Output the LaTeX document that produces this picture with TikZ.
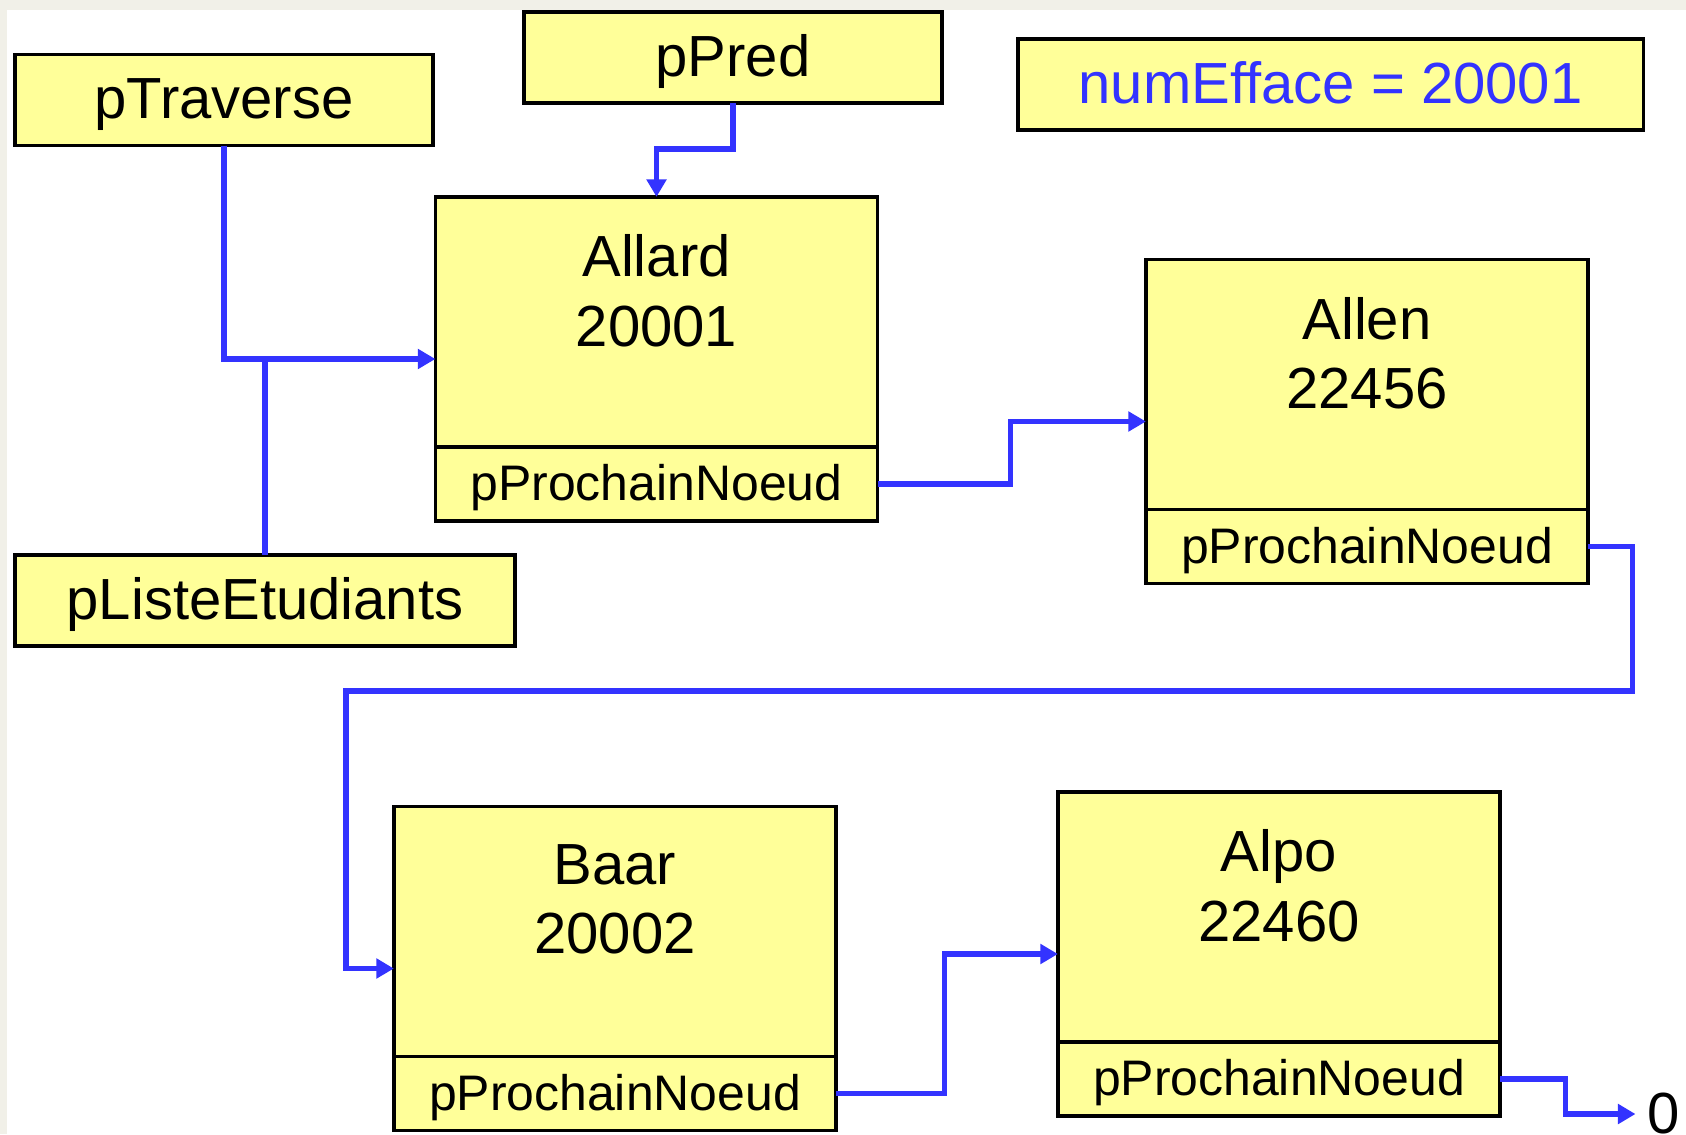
\documentclass[tikz,border=0pt]{standalone}
\usepackage{fontspec}
\setmainfont{Liberation Sans}
\usetikzlibrary{arrows.meta,positioning}
\definecolor{cellfill}{HTML}{FFFF99}
\definecolor{linkblue}{HTML}{3333FF}
\definecolor{paper}{HTML}{F1F0E8}
\newcommand{\bigtxt}{\fontsize{16.5}{19.8}\selectfont}
\newcommand{\smalltxt}{\fontsize{14.2}{17}\selectfont}
\tikzset{
  var/.style={draw=black,line width=0.95pt,fill=cellfill,minimum height=0.91cm,
    inner sep=0pt,outer sep=0pt,text height=11.8pt,text depth=1pt,font=\bigtxt},
  cell/.style={draw=black,line width=0.95pt,fill=cellfill,minimum width=4.42cm,
    minimum height=3.24cm,inner sep=0pt,outer sep=0pt},
  celltxt/.style={anchor=north,yshift=-0.37cm,inner sep=0pt,align=center,font=\bigtxt},
  nextbox/.style={draw=black,line width=0.95pt,fill=cellfill,minimum width=4.42cm,
    minimum height=0.74cm,inner sep=0pt,outer sep=0pt,anchor=south,
    text height=10.2pt,text depth=0.6pt,font=\smalltxt},
  link/.style={draw=linkblue,line width=1.5pt,-{Triangle[length=5pt,width=5.5pt]}}
}

\begin{document}
\begin{tikzpicture}[x=0.01cm,y=-0.01cm]
\fill[paper] (0,0) rectangle (1686,1134);
\fill[white] (7,10) rectangle (1686,1134);
\useasboundingbox (0,0) rectangle (1686,1134);

\node[var,minimum width=4.18cm] (ptraverse) at (224,100) {pTraverse};
\node[var,minimum width=4.18cm] (ppred) at (733,57.5) {pPred};
\node[var,minimum width=6.25cm,text=linkblue] (numefface) at (1330.5,84.5) {numEfface = 20001};
\node[var,minimum width=5cm] (pliste) at (265,600.5) {pListeEtudiants};

\node[cell,label={[celltxt]north:Allard\\20001}] (allard) at (656.5,359) {};
\node[nextbox] (allard-p) at (allard.south) {pProchainNoeud};
\node[cell,label={[celltxt]north:Allen\\22456}] (allen) at (1367,421.5) {};
\node[nextbox] (allen-p) at (allen.south) {pProchainNoeud};
\node[cell,label={[celltxt]north:Baar\\20002}] (baar) at (615,968.5) {};
\node[nextbox] (baar-p) at (baar.south) {pProchainNoeud};
\node[cell,label={[celltxt]north:Alpo\\22460}] (alpo) at (1279,954) {};
\node[nextbox] (alpo-p) at (alpo.south) {pProchainNoeud};
\node[font=\bigtxt] (nil) at (1664,1114) {0};

\draw[link] (ptraverse.south) |- (allard.west);
\draw[link,-] (pliste.north) -- (pliste.north |- allard.west);
\draw[link] (ppred.south) -- ++(0,46) -| (allard.north);
\draw[link] (allard-p.east) -- ++(133,0) |- (allen.west);
\draw[link] (allen-p.east) -- ++(44,0) |- (346,691) |- (baar.west);
\draw[link] (baar-p.east) -- ++(108,0) |- (alpo.west);
\draw[link] (alpo-p.east) -- ++(65,0) |- (nil.west);
\end{tikzpicture}
\end{document}
